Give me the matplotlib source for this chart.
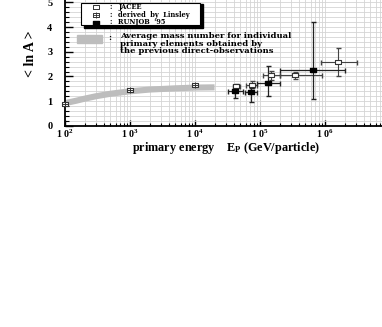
import matplotlib
matplotlib.use("Agg")
import matplotlib.pyplot as plt
from matplotlib.lines import Line2D
from matplotlib.patches import Rectangle
from matplotlib.ticker import LogLocator, MultipleLocator, FixedLocator

plt.rcParams["font.family"] = ["Liberation Serif", "DejaVu Serif"]
plt.rcParams["font.weight"] = "bold"
plt.rcParams["mathtext.fontset"] = "custom"
plt.rcParams["mathtext.rm"] = "Liberation Serif:bold"
plt.rcParams["mathtext.it"] = "Liberation Serif:bold"
plt.rcParams["mathtext.bf"] = "Liberation Serif:bold"

# derived by Linsley
linsley_E = [1e2, 1e3, 1e4]
linsley_y = [0.90, 1.45, 1.65]

# RUNJOB '95
runjob_E = [4.1e4, 7.3e4, 1.35e5, 6.5e5]
runjob_y = [1.40, 1.36, 1.75, 2.25]
runjob_E_lo = [3.2e4, 5.9e4, 9.0e4, 2.0e5]
runjob_E_hi = [5.5e4, 9.0e4, 2.0e5, 2.0e6]
runjob_y_lo = [1.12, 0.96, 1.19, 1.08]
runjob_y_hi = [1.59, 1.53, 2.43, 4.22]

# JACEE
jacee_E = [4.3e4, 7.5e4, 1.5e5, 3.5e5, 1.6e6]
jacee_y = [1.62, 1.66, 2.04, 2.04, 2.58]
jacee_E_lo = [3.8e4, 6.0e4, 1.1e5, 2.0e5, 8.7e5]
jacee_E_hi = [4.9e4, 9.0e4, 2.0e5, 8.9e5, 3.1e6]
jacee_y_lo = [1.55, 1.52, 1.86, 1.90, 2.02]
jacee_y_hi = [1.70, 1.80, 2.22, 2.18, 3.15]

# average from direct observations (gray band)
band_E = [1e2, 1.5e2, 2e2, 3e2, 5e2, 1e3, 2e3, 5e3, 1e4, 2e4]
band_y = [0.92, 1.02, 1.10, 1.20, 1.30, 1.40, 1.47, 1.52, 1.55, 1.56]

xticks = [1e2, 1e3, 1e4, 1e5, 1e6]
xticklabels = ["1 0$^{2}$", "1 0$^{3}$", "1 0$^{4}$", "1 0$^{5}$", "1 0$^{6}$"]
legend_labels = ["JACEE", "derived  by  Linsley", "RUNJOB  '95"]


def errs(v, lo, hi):
    return [[a - b for a, b in zip(v, lo)], [c - a for a, c in zip(v, hi)]]


box = [(-1.4, -1), (1.4, -1), (1.4, 1), (-1.4, 1), (-1.4, -1)]
W, H = 382, 327

fig = plt.figure(figsize=(3.82, 3.27), dpi=100)
ax = fig.add_axes([0.170, 0.615, 0.851, 0.393])

ax.set_xscale("log")
ax.set_xlim(1e2, 1e7)
ax.set_ylim(0, 5.2)

ax.xaxis.set_minor_locator(LogLocator(base=10, subs=range(2, 10)))
ax.yaxis.set_major_locator(FixedLocator([0, 1, 2, 3, 4, 5]))
ax.yaxis.set_minor_locator(MultipleLocator(0.2))
ax.grid(True, which="both", color="#d4d4d4", lw=0.6)
ax.set_axisbelow(True)

ax.plot(band_E, band_y, color="#bdbdbd", lw=4.4, solid_capstyle="butt", zorder=2)

ax.errorbar(jacee_E, jacee_y,
            xerr=errs(jacee_E, jacee_E_lo, jacee_E_hi),
            yerr=errs(jacee_y, jacee_y_lo, jacee_y_hi),
            fmt="none", ecolor="#444444", elinewidth=0.8, capsize=1.8, zorder=3)
ax.errorbar(runjob_E, runjob_y,
            xerr=errs(runjob_E, runjob_E_lo, runjob_E_hi),
            yerr=errs(runjob_y, runjob_y_lo, runjob_y_hi),
            fmt="none", ecolor="#222222", elinewidth=0.9, capsize=1.8, zorder=3)

ax.plot(jacee_E, jacee_y, ls="none", marker=box, ms=4.5, mfc="white",
        mec="#333333", mew=0.8, zorder=4)
ax.plot(runjob_E, runjob_y, ls="none", marker=box, ms=4.5, mfc="black",
        mec="black", zorder=4)
ax.plot(linsley_E, linsley_y, ls="none", marker=box, ms=5, mfc="white",
        mec="#333333", mew=0.8, zorder=4, clip_on=False)
ax.plot(linsley_E, linsley_y, ls="none", marker="+", ms=4.5, mec="#333333",
        mew=0.7, zorder=5, clip_on=False)

ax.set_xticks(xticks)
ax.set_xticklabels(xticklabels, fontsize=7.2, fontweight="bold")
ax.tick_params(axis="both", which="both", direction="in")
ax.tick_params(axis="x", which="major", length=4, width=1, pad=1)
ax.tick_params(axis="x", which="minor", length=2, width=0.8)
ax.tick_params(axis="y", which="major", length=6, width=1, pad=9, labelsize=7.5)
ax.tick_params(axis="y", which="minor", length=3, width=0.8)
for s in ["top", "right"]:
    ax.spines[s].set_visible(False)
ax.spines["left"].set_linewidth(1.3)
ax.spines["bottom"].set_linewidth(1.3)

ax.set_xlabel("primary energy    E$_{\\mathregular{P}}$ (GeV/particle)",
              fontsize=8.8, fontweight="bold")
ax.xaxis.label.set_va("center")
ax.xaxis.set_label_coords(0.495, -0.17)
ax.set_ylabel("< ln A >", fontsize=10, fontweight="bold")
ax.yaxis.set_label_coords(-0.085, 0.56)

# legend box drawn by hand (shadowed frame)
fig.add_artist(Rectangle((84 / W, 1 - 27.5 / H), 119 / W, 24 / H,
                         transform=fig.transFigure, fc="black", ec="black", zorder=10))
fig.add_artist(Rectangle((81 / W, 1 - 25 / H), 119 / W, 22 / H,
                         transform=fig.transFigure, fc="white", ec="black", lw=0.8, zorder=11))
rows = [6.7, 14.7, 22.5]
styles = [dict(marker=box, ms=3.8, mfc="white", mec="#333333", mew=0.7),
          dict(marker=box, ms=4.2, mfc="white", mec="#333333", mew=0.7),
          dict(marker=box, ms=3.8, mfc="black", mec="black")]
for r, st, lab in zip(rows, styles, legend_labels):
    yy = 1 - r / H
    fig.add_artist(Line2D([96.5 / W], [yy], transform=fig.transFigure, ls="none", zorder=12, **st))
    fig.text(109 / W, yy, ":", fontsize=4.8, family="DejaVu Serif", fontweight="bold",
             va="center", zorder=12)
    fig.text(118 / W, yy, lab, fontsize=4.8, family="DejaVu Serif", fontweight="bold",
             va="center", zorder=12)
fig.add_artist(Line2D([96.5 / W], [1 - rows[1] / H], transform=fig.transFigure, ls="none",
                      marker="+", ms=3.8, mec="#333333", mew=0.6, zorder=13))

fig.add_artist(Rectangle((77 / W, 1 - 43.3 / H), 25 / W, 8.3 / H,
                         transform=fig.transFigure, color="#bdbdbd"))
fig.text(108 / W, 1 - 38 / H, ":", fontsize=6, family="DejaVu Serif", fontweight="bold",
         va="center")
fig.text(120 / W, 1 - 32.5 / H,
         "Average mass number for individual\nprimary elements obtained by\nthe previous direct-observations",
         fontsize=6, family="DejaVu Serif", fontweight="bold", va="top", linespacing=0.85)

fig.savefig("out.png", dpi=100)
